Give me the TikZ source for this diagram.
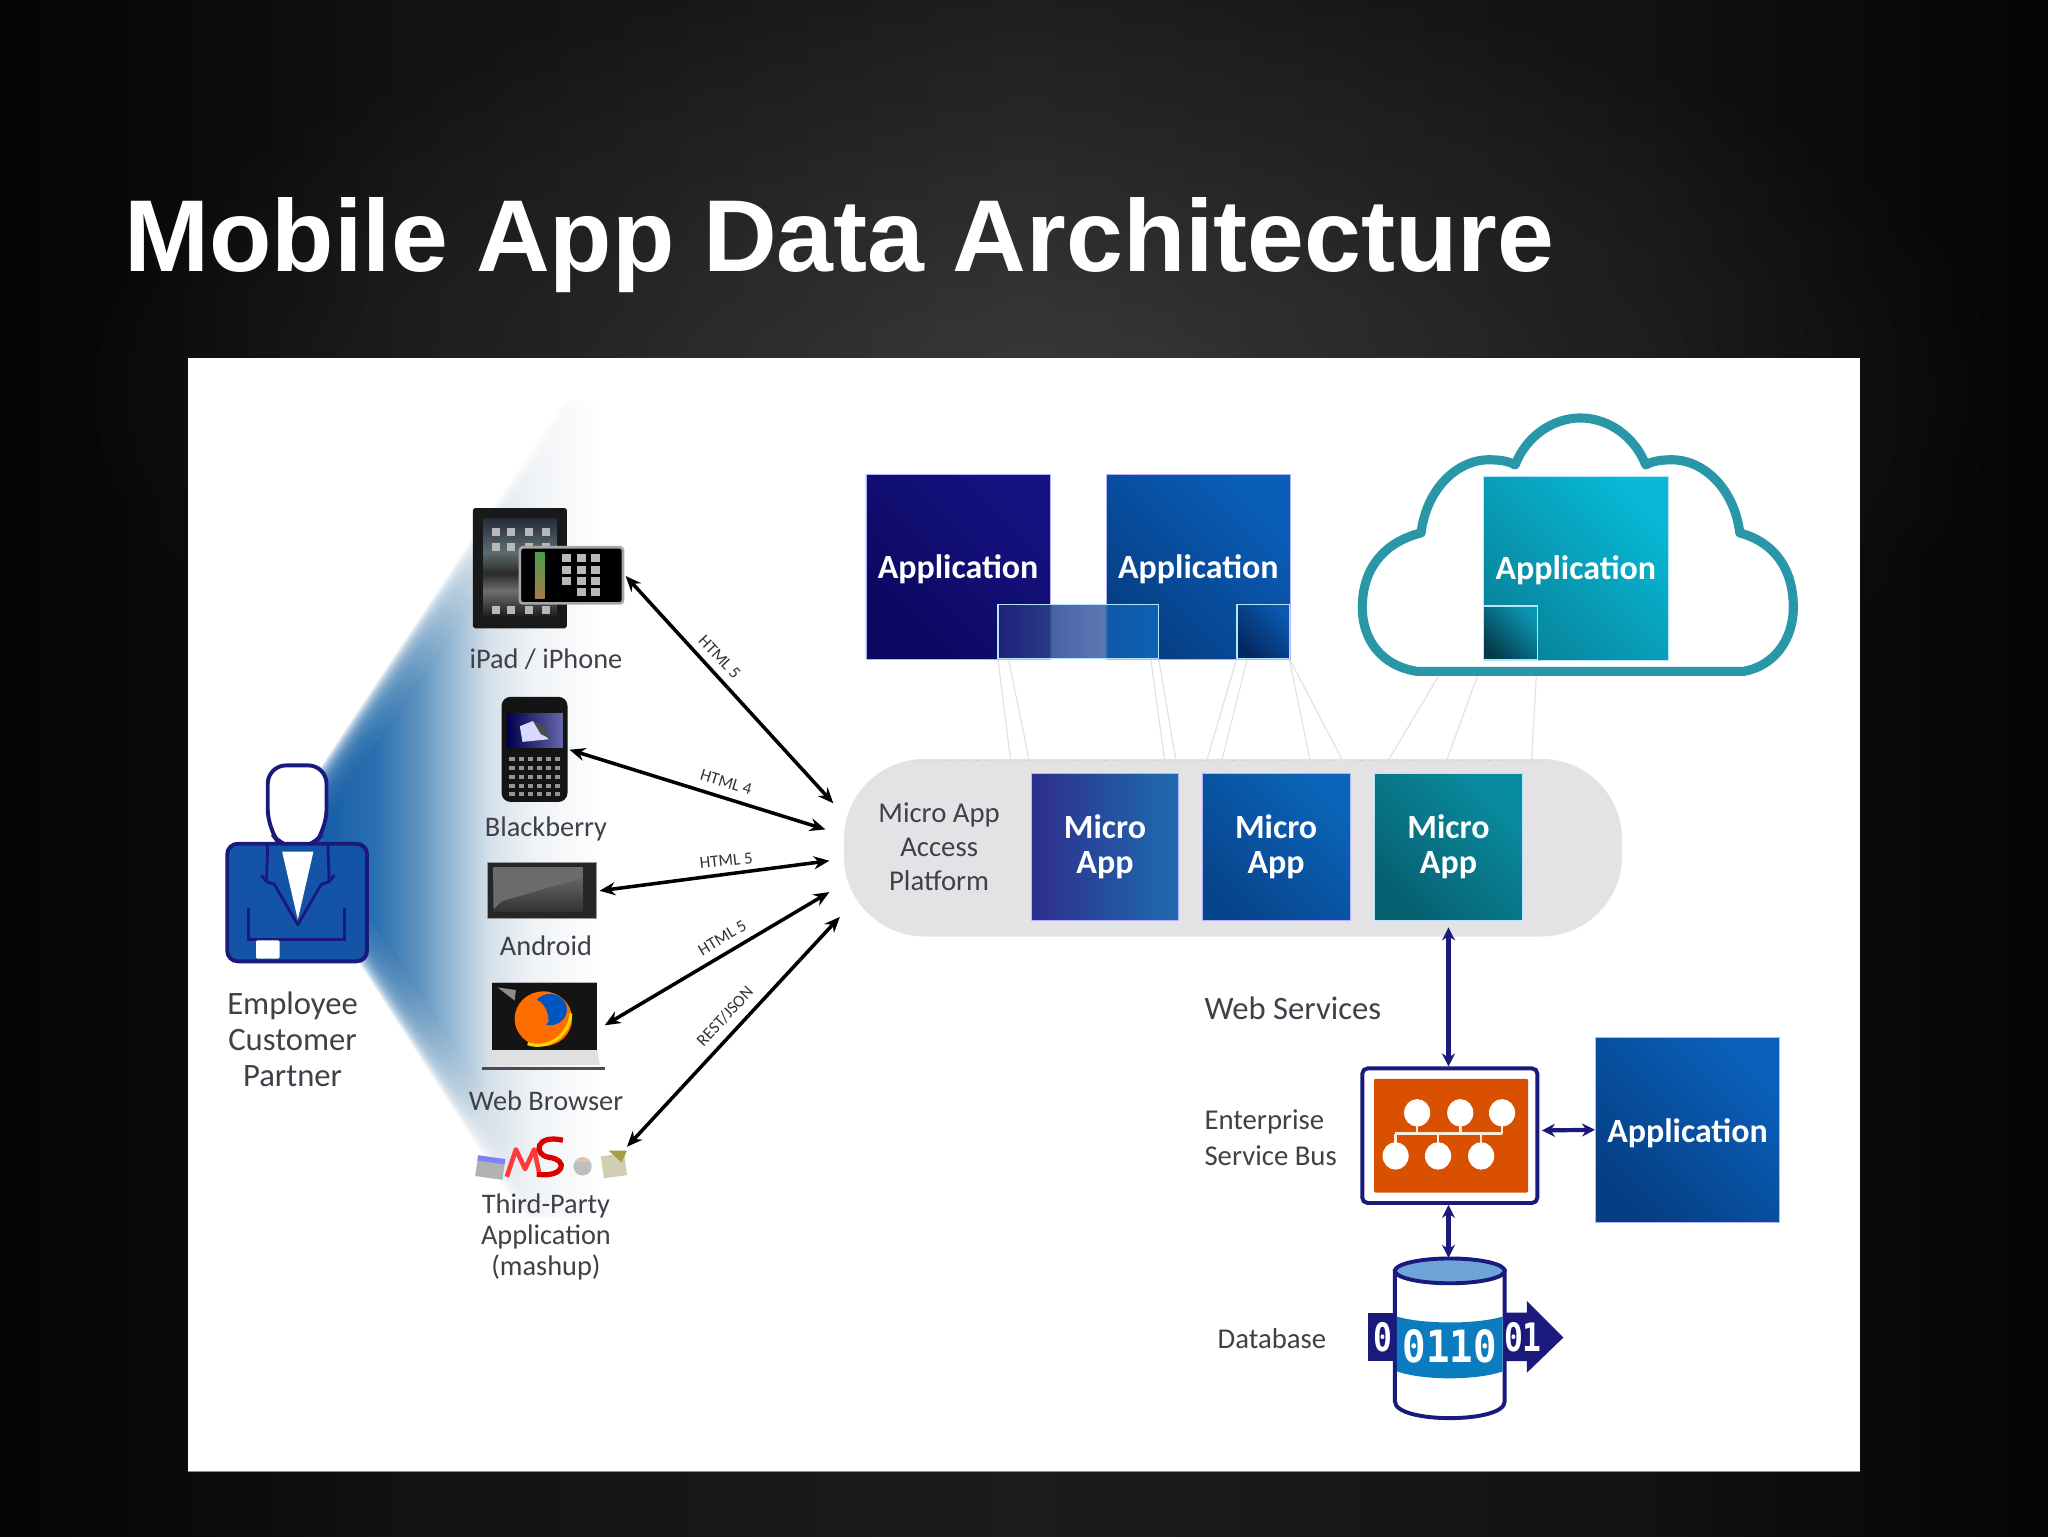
\documentclass[tikz,border=0pt]{standalone}
\usepackage{fontspec}
\setmainfont{Carlito}
\newfontfamily\titlefont{Liberation Sans}
\newfontfamily\digitfont{DejaVu Sans Mono}
\usetikzlibrary{arrows.meta,fadings}
\tikzfading[name=glowfade,inner color=transparent!0,outer color=transparent!100]
\definecolor{navy}{HTML}{1A1A7C}
\definecolor{txt}{HTML}{404048}
\definecolor{teal}{HTML}{2A97A8}
\definecolor{pill}{HTML}{E3E3E6}
\definecolor{ln}{HTML}{E2E2E2}
\definecolor{bedge}{HTML}{040404}
\definecolor{bmid}{HTML}{121212}
\definecolor{bcent}{HTML}{1C1C1C}
\definecolor{bm1}{HTML}{165CA8}
\definecolor{bm2}{HTML}{2A70B0}
\definecolor{bm3}{HTML}{5A90BE}
\definecolor{bm4}{HTML}{9DBDD6}
\definecolor{bm5}{HTML}{D6E1EA}
\definecolor{bm6}{HTML}{F0F3F6}
\definecolor{ov1}{HTML}{20207A}
\definecolor{ov2}{HTML}{2A3A88}
\definecolor{ov3}{HTML}{4A62A4}
\definecolor{ov4}{HTML}{5A78B4}
\definecolor{ov5}{HTML}{1058A8}
\definecolor{ov6}{HTML}{0C62B4}
\definecolor{padA}{HTML}{252A38}
\definecolor{padB}{HTML}{5E6C72}
\definecolor{padC}{HTML}{2A2A28}
\definecolor{padD}{HTML}{6E6E6C}
\definecolor{padE}{HTML}{1C1C1C}
\definecolor{bandblue}{HTML}{0B7CC0}
\pgfdeclarehorizontalshading{bgfade}{100bp}{color(0bp)=(bedge); color(25bp)=(bedge); color(35bp)=(bmid); color(50bp)=(bcent); color(65bp)=(bmid); color(75bp)=(bedge); color(100bp)=(bedge)}
\pgfdeclarehorizontalshading{beamfade}{100bp}{color(0bp)=(bm1); color(25bp)=(bm1); color(35bp)=(bm2); color(42bp)=(bm3); color(49bp)=(bm4); color(55bp)=(bm5); color(63bp)=(bm6); color(75bp)=(white); color(100bp)=(white)}
\pgfdeclarehorizontalshading{overlayfade}{100bp}{color(0bp)=(ov1); color(25bp)=(ov1); color(40.9bp)=(ov2); color(41.7bp)=(ov3); color(58.3bp)=(ov4); color(59.1bp)=(ov5); color(75bp)=(ov6); color(100bp)=(ov6)}
\pgfdeclareverticalshading{padscreen}{100bp}{color(0bp)=(padE); color(25bp)=(padE); color(38bp)=(padD); color(47bp)=(padC); color(58bp)=(padB); color(75bp)=(padA); color(100bp)=(padA)}
\newcommand{\fs}[1]{\fontsize{#1}{#1}\selectfont}
\newcommand{\applabel}[1]{\raisebox{#1}[0pt][0pt]{Application}}
\tikzset{
  x=1pt,y=-1pt,
  appbox/.style={inner sep=0pt,minimum width=141pt,minimum height=141pt,text=white,font=\bfseries\fs{26},draw=#1!30!white,line width=.6pt},
  microbox/.style={inner sep=0pt,minimum width=113pt,minimum height=113pt,text=white,font=\bfseries\fs{26},align=center,draw=#1!30!white,line width=.6pt},
  diag/.style 2 args={shade,bottom color=#1,top color=#2,shading angle=-45},
  lab/.style={inner sep=0pt,text=txt,font=\fs{25},align=center},
  devlab/.style={lab,font=\fs{21.7}},
  lableft/.style={lab,anchor=west,align=left},
  proto/.style={inner sep=0pt,text=black!80,font=\fs{13}},
  blackarrow/.style={<->,>={Stealth[length=12pt,width=10pt]},line width=2.7pt,black},
  navyarrow/.style={<->,>={Stealth[length=10pt,width=10pt]},line width=3.2pt,navy},
  guide/.style={ln,line width=.9pt},
  overlay/.style={draw=#1!30!white,line width=1pt},
  tile/.style={black!28}
}
\begin{document}
\begin{tikzpicture}
\useasboundingbox (0,0) rectangle (1568,1176);
% background
\shade[shading=bgfade] (-3,-3) rectangle (1571,1179);
\fill[white,opacity=.13,path fading=glowfade] (800,300) ellipse (760pt and 330pt);
\node (title) [anchor=base west,inner sep=0pt,text=white,font=\titlefont\bfseries\fs{78.2}] at (95,208) {Mobile App Data Architecture};
% panel
\fill[white] (144,274) rectangle (1424,1127);
\draw[black!45,line width=1pt] (144,1126.5) -- (1424,1126.5);
% beam with soft edges
\foreach \d in {16,15,...,-8}{
\shade[shading=beamfade,opacity=.14]
  (236-.8*\d,630-.55*\d) -- (445-.8*\d,315-.55*\d) -- (462,315-.55*\d) -- (462,925+.5*\d) -- (415-.85*\d,925+.5*\d) -- (281-.85*\d,717+.5*\d) -- cycle;
}
\shade[shading=beamfade]
  (236+8,630+5) -- (445+8,315+5) -- (462,320) -- (462,921) -- (415+8,921) -- (281+8,713) -- cycle;
% person
\draw[navy,line width=3pt,fill=white,rounded corners=14pt] (205,586) -- (250,586) -- (250,634) -- (238,650) -- (217,650) -- (205,634) -- cycle;
\draw[navy,line width=3pt,fill={rgb,255:red,20;green,84;blue,166},rounded corners=8pt] (174,646) rectangle (281,736);
\fill[white] (216,652) -- (240,652) -- (228,704) -- cycle;
\draw[navy,line width=2.2pt,line join=round] (205,646) -- (204,675) -- (210,677) -- (228,708) -- (246,677) -- (252,675) -- (251,646);
\draw[navy,line width=2.2pt] (190,695) -- (190,719) -- (264,719) -- (264,695);
\draw[navy,line width=2.2pt] (200,670) -- (204,675);
\draw[navy,line width=2.2pt] (256,670) -- (252,675);
\fill[white,rounded corners=1pt] (196,720) rectangle (214,734);
\node (who) [lab] at (224,796) {Employee\\[2.5pt]Customer\\[2.5pt]Partner};
% iPad
\fill[black!90,rounded corners=1.5pt] (362,389) rectangle (434,481);
\shade[shading=padscreen] (370,397) rectangle (426,472);
\foreach \ix in {380,391,405,418}{
 \fill[tile] (\ix-3,404) rectangle (\ix+3,410);
 \fill[tile] (\ix-3,416) rectangle (\ix+3,422);
 \fill[tile] (\ix-3,464) rectangle (\ix+3,470);
}
% iPhone
\draw[black!35,fill=black,rounded corners=2.5pt,line width=2pt] (398,419) rectangle (477,462);
\shade[top color=green!45!black!70!white,bottom color=orange!50!black!70!white] (409.5,423) rectangle (417,458);
\foreach \iy in {427.5,436.5,444.5}{
 \foreach \ix in {434,445,455.6}{\fill[tile] (\ix-3.5,\iy-3) rectangle (\ix+3.5,\iy+3);}
}
\foreach \ix in {445,455.6}{\fill[tile] (\ix-3.5,450) rectangle (\ix+3.5,456);}
\node (ipad) [devlab] at (418,505) {iPad / iPhone};
% Blackberry
\fill[black!92,rounded corners=7pt] (384,533.5) rectangle (434.5,614);
\shade[left color=black!70!blue,right color=black!55!blue!60!white] (388,546) rectangle (431,572);
\fill[blue!15!white] (398,556) -- (408,552) -- (420,566) -- (400,568) -- cycle;
\fill[black!70] (408,552) -- (416,556) -- (422,566) -- (414,562) -- cycle;
\foreach \iy in {581,588,595,602,608}{\foreach \ix in {392,399,406,413,420,427}{\fill[black!42] (\ix-2,\iy-1.5) rectangle (\ix+2,\iy+1.5);}}
\node (bb) [devlab] at (418,635) {Blackberry};
% Android
\fill[black!85,rounded corners=1pt] (373,660) rectangle (457,703);
\draw[black!40,line width=.8pt] (373,660) rectangle (457,703);
\shade[top color=black!55,bottom color=black!80] (378,664) rectangle (446,698);
\fill[black!58] (378,664) -- (446,664) -- (446,672) -- (384,690) -- (378,696) -- cycle;
\node (android) [devlab] at (418,724) {Android};
% laptop
\fill[black!92] (376.5,752) rectangle (457,804);
\draw[black!30,line width=1pt] (376.5,752) -- (457,752);
\fill[black!45] (381,756) -- (395,758) -- (394,766) -- cycle;
\fill[orange!85!red] (416,780) ellipse (22pt and 21pt);
\fill[blue!55!cyan!75!black] (421,773) ellipse (13pt and 12pt);
\fill[orange!85!red] (404,764) .. controls (414,764) and (420,772) .. (420,782) .. controls (415,790) and (405,788) .. (401,778) -- cycle;
\draw[yellow!75!orange,line width=2.4pt] (404,799) .. controls (418,804) and (436,794) .. (437,776);
\fill[black!12] (376.5,804) -- (457,804) -- (459.5,815.5) -- (374,815.5) -- cycle;
\fill[black!70] (369,816.7) rectangle (463,819.5);
\node (web) [devlab] at (418,843) {Web Browser};
% third party icons
\fill[black!30,rotate around={-8:(376,893)}] (365,886) rectangle (386,902);
\fill[blue!50!white,rotate around={-8:(376,893)}] (365,886) rectangle (386,890);
\draw[red!70!pink,line width=3.5pt,line join=round] (388,901) -- (395,880) -- (402,895) -- (409,880) -- (413,899);
\draw[red!85!black,line width=4pt] (431,873) .. controls (410,868) and (408,884) .. (420,886) .. controls (436,888) and (432,902) .. (411,899);
\fill[black!25] (446,893) circle (7pt);
\fill[orange!50!white] (442,887) rectangle (450,890);
\fill[yellow!40!black!35!white,rotate around={8:(470,892)}] (461,884) rectangle (479,901);
\fill[yellow!60!black] (466,881) -- (480,881) -- (476,890) -- cycle;
\node (third) [devlab] at (418,947) {Third-Party\\[2pt]Application\\[2pt](mashup)};
% platform
\fill[pill,rounded corners=62pt] (646,581) rectangle (1242,717);
\draw[white!80!black,dotted,line width=.8pt] (700,582) -- (1180,582);
% guides
\coordinate (o1bl) at (764,504); \coordinate (o1br) at (887,504);
\coordinate (o2bl) at (947,504); \coordinate (o2br) at (987,504);
\coordinate (o3bl) at (1136,504); \coordinate (o3br) at (1177,504); \coordinate (o3tl) at (1131,468);
\draw[guide] (o1bl) -- (775,592);
\draw[guide] (o1bl)++(8,0) -- (790,592);
\draw[guide] (o1br) -- (902,592);
\draw[guide] (o1br)++(-6,0) -- (893,592);
\draw[guide] (o2bl) -- (921,592);
\draw[guide] (o2bl)++(8,0) -- (933,592);
\draw[guide] (o2br) -- (1005,592);
\draw[guide] (o2br) -- (1033,592);
\draw[guide] (o3tl) -- (1057,592);
\draw[guide] (o3bl) -- (1104,592);
\draw[guide] (o3br) -- (1172,592);
% micro apps
\node (m1) [microbox=blue,left color={rgb,255:red,46;green,46;blue,140},right color={rgb,255:red,30;green,108;blue,176}] at (846,648.5) {Micro\\[1pt]App};
\node (m2) [microbox=blue,diag={{rgb,255:red,8;green,68;blue,140}}{{rgb,255:red,10;green,100;blue,184}}] at (977,648.5) {Micro\\[1pt]App};
\node (m3) [microbox=cyan,diag={{rgb,255:red,6;green,96;blue,112}}{{rgb,255:red,10;green,140;blue,160}}] at (1109,648.5) {Micro\\[1pt]App};
\node (plat) [lab,font=\fs{22}] at (719,648) {Micro App\\[4pt]Access\\[4pt]Platform};
% cloud
\draw[teal,line width=7pt,fill=white,line join=round] (1085,514) .. controls (1058,510) and (1043,490) .. (1043,465) .. controls (1043,435) and (1060,415) .. (1088,408) .. controls (1092,375) and (1115,352) .. (1140,352) .. controls (1148,352) and (1155,353) .. (1160,356) .. controls (1168,335) and (1188,320) .. (1210,320) .. controls (1232,320) and (1252,335) .. (1260,356) .. controls (1265,353) and (1272,352) .. (1280,352) .. controls (1305,352) and (1328,375) .. (1332,408) .. controls (1358,415) and (1373,435) .. (1373,465) .. controls (1373,490) and (1358,510) .. (1335,514) -- cycle;
% applications
\node (a1) [appbox=blue,diag={{rgb,255:red,10;green,8;blue,96}}{{rgb,255:red,22;green,18;blue,128}}] at (733.5,434) {\applabel{-9pt}};
\node (a2) [appbox=blue,diag={{rgb,255:red,6;green,62;blue,132}}{{rgb,255:red,10;green,94;blue,184}}] at (917.5,434) {\applabel{-9pt}};
\node (a3) [appbox=cyan,diag={{rgb,255:red,8;green,132;blue,156}}{{rgb,255:red,8;green,184;blue,214}}] at (1206.5,435) {\applabel{-9pt}};
\node (a4) [appbox=blue,diag={{rgb,255:red,6;green,62;blue,132}}{{rgb,255:red,10;green,96;blue,186}}] at (1292,865) {\applabel{-10pt}};
% overlays
\shade[overlay=cyan,shading=overlayfade] (764,463) rectangle (887,504);
\shade[overlay=cyan,bottom color={rgb,255:red,4;green,40;blue,96},top color={rgb,255:red,10;green,88;blue,176},shading angle=-45] (947,463) rectangle (987,504);
\shade[overlay=cyan,bottom color={rgb,255:red,4;green,60;blue,76},top color={rgb,255:red,10;green,150;blue,176},shading angle=-45] (1136,464) rectangle (1177,505);
% arrows left
\coordinate (p1) at (638,615); \coordinate (p2) at (632,635); \coordinate (p3) at (635,659); \coordinate (p4) at (635,683); \coordinate (p5) at (643,702);
\coordinate (d1) at (479,441); \coordinate (d2) at (436,574); \coordinate (d3) at (459,682); \coordinate (d4) at (463,785); \coordinate (d5) at (480,878);
\draw[blackarrow] (d1) -- (p1);
\draw[blackarrow] (d2) -- (p2);
\draw[blackarrow] (d3) -- (p3);
\draw[blackarrow] (d4) -- (p4);
\draw[blackarrow] (d5) -- (p5);
\node (h1) [proto,rotate=-47] at (551,503) {HTML 5};
\node (h2) [proto,rotate=-17] at (556,599) {HTML 4};
\node (h3) [proto,rotate=6] at (556,659) {HTML 5};
\node (h4) [proto,rotate=31] at (553,718) {HTML 5};
\node (h5) [proto,rotate=47] at (555,778) {REST/JSON};
% right labels
\node (ws) [lableft,font=\fs{25}] at (922,772) {Web Services};
\node (esbl) [lableft,font=\fs{22}] at (922,871) {Enterprise\\[5pt]Service Bus};
\node (dbl) [lableft,font=\fs{22}] at (932,1025) {Database};
% ESB
\node (esb) [draw=navy,line width=3pt,rounded corners=4pt,fill=white,minimum width=134pt,minimum height=103pt,inner sep=0pt] at (1110,869.5) {};
\fill[orange!75!red!85!black,rounded corners=1pt] (1052,826) rectangle (1170,913);
\draw[white!85!orange,line width=2pt] (1068,868) -- (1150,868);
\foreach \ix in {1085,1118,1150}{\draw[white!85!orange,line width=2pt] (\ix,852) -- (\ix,868); \fill[white] (\ix,852) ellipse (10pt and 10.5pt);}
\foreach \ix in {1068.5,1101,1134}{\draw[white!85!orange,line width=2pt] (\ix,868) -- (\ix,885); \fill[white] (\ix,885) ellipse (10pt and 10.5pt);}
% database
\fill[navy] (1047,1005) rectangle (1075,1042);
\fill[navy] (1145,1005) -- (1169,1005) -- (1169,996) -- (1197,1024) -- (1169,1051) -- (1169,1042) -- (1145,1042) -- cycle;
\path[fill=white,draw=navy,line width=3pt] (1068,973) -- (1068,1073) .. controls (1068,1090) and (1152,1090) .. (1152,1073) -- (1152,973) -- cycle;
\fill[bandblue] (1069.5,1008) .. controls (1090,1014) and (1130,1014) .. (1150.5,1008) -- (1150.5,1050) .. controls (1130,1057) and (1090,1057) .. (1069.5,1050) -- cycle;
\draw[navy,line width=3pt,fill={rgb,255:red,110;green,165;blue,216}] (1110,973) ellipse (42pt and 9.5pt);
\node (bits) [inner sep=0pt,text=white,xscale=.88,font=\digitfont\bfseries\fs{34}] at (1110,1031) {0110};
\node (bitl) [inner sep=0pt,text=white,xscale=.8,font=\digitfont\bfseries\fs{30}] at (1059,1024) {0};
\node (bitr) [inner sep=0pt,text=white,xscale=.8,font=\digitfont\bfseries\fs{30}] at (1166,1024) {01};
% vertical and horizontal connectors
\coordinate (dbtop) at (1109,963);
\draw[navyarrow] (m3.south |- 0,710) -- (m3.south |- esb.north);
\draw[navyarrow] (esb.east) ++(2,-4) -- (a4.west |- 0,865);
\draw[navyarrow] (m3.south |- esb.south) -- (dbtop);
\end{tikzpicture}
\end{document}
